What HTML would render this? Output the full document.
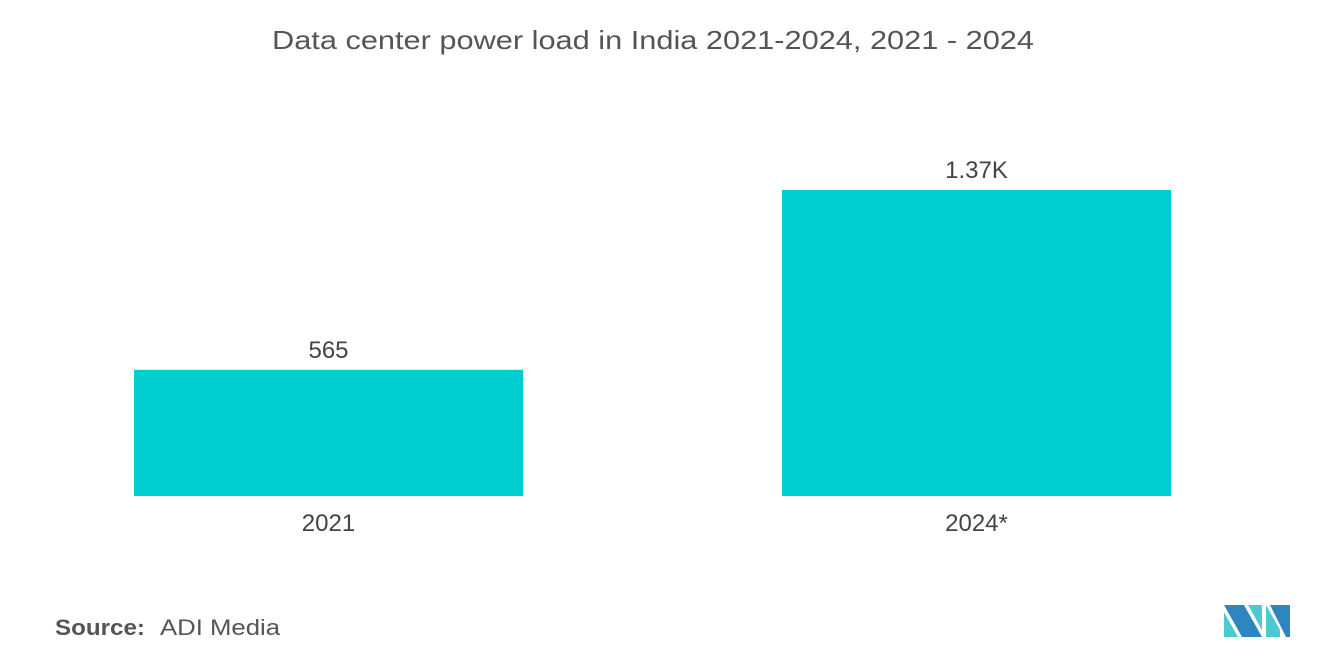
<!DOCTYPE html>
<html><head><meta charset="utf-8"><style>
body{margin:0;background:#fff;font-family:"Liberation Sans",sans-serif;}
svg text{font-family:"Liberation Sans",sans-serif;}
</style></head><body>
<svg width="1320" height="665" xmlns="http://www.w3.org/2000/svg">
<text x="272" y="49" font-size="26" fill="#555" textLength="762" lengthAdjust="spacingAndGlyphs">Data center power load in India 2021-2024, 2021 - 2024</text>
<g id="bars"></g>
<text x="55" y="635" font-size="22" fill="#555" font-weight="bold" textLength="90" lengthAdjust="spacingAndGlyphs">Source:</text>
<text x="160" y="635" font-size="22" fill="#555" textLength="120" lengthAdjust="spacingAndGlyphs">ADI Media</text>
<g>
<polygon points="1224,605 1244,605 1262,637 1242,637" fill="#2e86c1"/>
<polygon points="1224,612 1238,637 1224,637" fill="#4cc9d1"/>
<polygon points="1248,605 1262,605 1262,630" fill="#4cc9d1"/>
<polygon points="1266,605 1280,630 1280,637 1266,637" fill="#4cc9d1"/>
<polygon points="1270,605 1290,605 1290,637 1286,637" fill="#2e86c1"/>
</g>
</svg>
<script>
const categories=["2021","2024*"];
const values=[565,1370];
const valueLabels=["565","1.37K"];
const baseY=496, scale=306/1370;
const xs=[134,782], bw=389;
const g=document.getElementById('bars');
const ns="http://www.w3.org/2000/svg";
categories.forEach((c,i)=>{
  const h=values[i]*scale;
  const r=document.createElementNS(ns,'rect');
  r.setAttribute('x',xs[i]);r.setAttribute('y',baseY-h);r.setAttribute('width',bw);r.setAttribute('height',h);r.setAttribute('fill','#00ced1');
  
  
  g.appendChild(r);
  const t=document.createElementNS(ns,'text');
  t.setAttribute('x',xs[i]+bw/2);t.setAttribute('y',baseY-h-12);t.setAttribute('text-anchor','middle');t.setAttribute('font-size','24');t.setAttribute('fill','#444');
  t.textContent=valueLabels[i];
  
  
  g.appendChild(t);
  const l=document.createElementNS(ns,'text');
  l.setAttribute('x',xs[i]+bw/2);l.setAttribute('y',531);l.setAttribute('text-anchor','middle');l.setAttribute('font-size','24');l.setAttribute('fill','#444');
  l.textContent=c;
  
  
  g.appendChild(l);
});
</script>
</body></html>
